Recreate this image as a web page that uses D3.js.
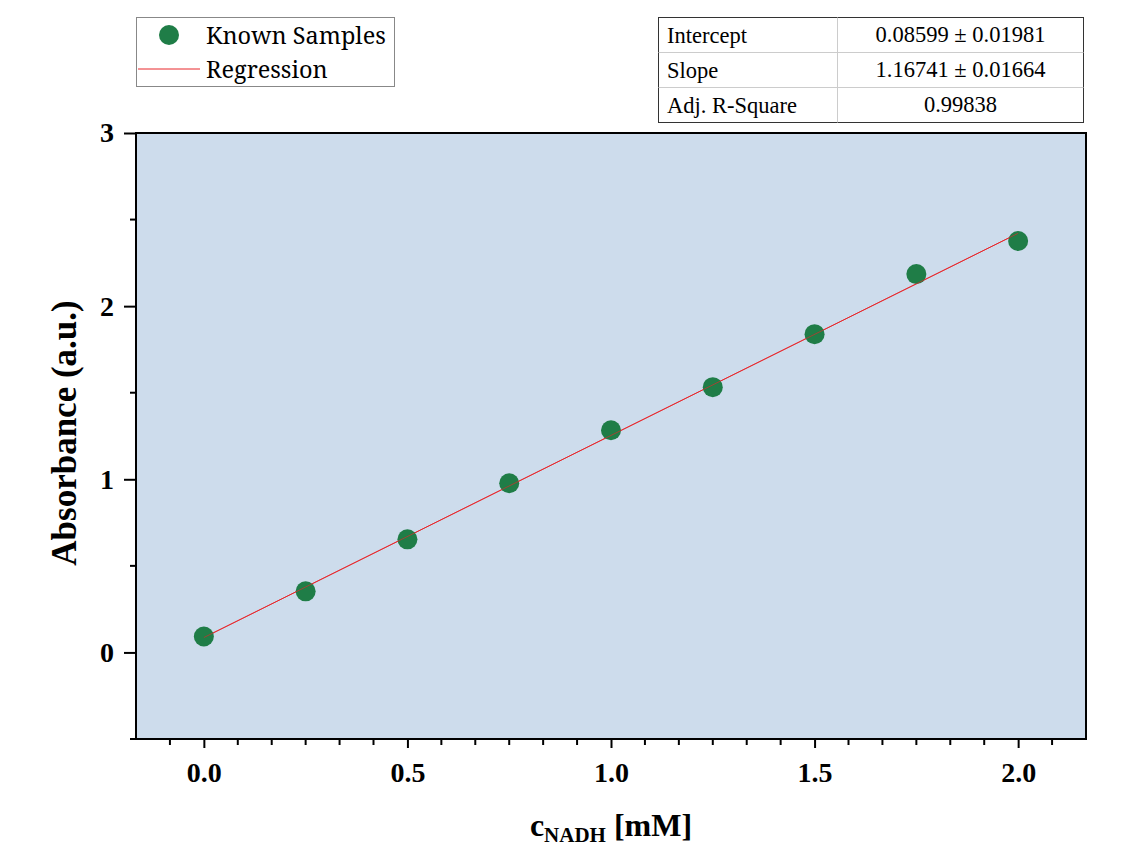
<!DOCTYPE html>
<html><head><meta charset="utf-8">
<script src="https://cdn.jsdelivr.net/npm/d3@7"></script>
<style>body{margin:0;background:#fff}</style>
</head><body>
<script>
const concentrations = [0, 0.25, 0.5, 0.75, 1.0, 1.25, 1.5, 1.75, 2.0];
const absorbance = [0.092, 0.353, 0.653, 0.977, 1.283, 1.532, 1.838, 2.185, 2.376];
const fitIntercept = 0.08599;
const fitSlope = 1.16741;
const xTicks = [0, 0.5, 1.0, 1.5, 2.0];
const yTicks = [0, 1, 2, 3];
const tableRows = ["Intercept", "Slope", "Adj. R-Square"];
const tableValues = ["0.08599 \u00b1 0.01981", "1.16741 \u00b1 0.01664", "0.99838"];
const legendLabels = ["Known Samples", "Regression"];

const W = 1126, H = 862;
const m = {left: 136, right: 1086, top: 133, bottom: 739};
const svg = d3.select("body").append("svg").attr("width", W).attr("height", H);

const x = d3.scaleLinear().domain([-1/6, 2 + 1/6]).range([m.left, m.right]);
const y = d3.scaleLinear().domain([-0.5, 3]).range([m.bottom, m.top]);

svg.append("rect").attr("x", m.left).attr("y", m.top)
  .attr("width", m.right - m.left).attr("height", m.bottom - m.top)
  .attr("fill", "#cddcec");

const xMinor = d3.range(-1, 27).map(i => i / 12).filter(v => v > -1/6 + 1e-6 && v < 2 + 1/6 - 1e-6 && Math.abs(v * 2 - Math.round(v * 2)) > 1e-6);
const yMinor = [-0.5, 0.5, 1.5, 2.5];

const tickFont = "'Liberation Serif', 'Times New Roman', serif";

const xAxis = svg.append("g").attr("transform", `translate(0,${m.bottom})`)
  .call(d3.axisBottom(x).tickValues(xTicks).tickFormat(d3.format(".1f")).tickSize(9).tickPadding(14));
const yAxis = svg.append("g").attr("transform", `translate(${m.left},0)`)
  .call(d3.axisLeft(y).tickValues(yTicks).tickFormat(d3.format("d")).tickSize(12).tickPadding(10));
[xAxis, yAxis].forEach(g => {
  g.attr("font-size", null).attr("font-family", null);
  g.select(".domain").remove();
  g.selectAll("line").attr("stroke", "#000").attr("stroke-width", 2);
  g.selectAll("text").style("font-family", tickFont).style("font-weight", "bold")
    .style("font-size", "28px").attr("fill", "#000");
});
svg.append("g").selectAll("line").data(xMinor).join("line")
  .attr("x1", d => x(d)).attr("x2", d => x(d)).attr("y1", m.bottom).attr("y2", m.bottom + 6)
  .attr("stroke", "#000").attr("stroke-width", 2);
svg.append("g").selectAll("line").data(yMinor).join("line")
  .attr("x1", m.left).attr("x2", m.left - 6).attr("y1", d => y(d)).attr("y2", d => y(d))
  .attr("stroke", "#000").attr("stroke-width", 2);

svg.append("rect").attr("x", m.left).attr("y", m.top)
  .attr("width", m.right - m.left).attr("height", m.bottom - m.top)
  .attr("fill", "none").attr("stroke", "#000").attr("stroke-width", 2);

const fx = [concentrations[0], concentrations[concentrations.length - 1]];
svg.append("line")
  .attr("x1", x(fx[0])).attr("y1", y(fitIntercept + fitSlope * fx[0]))
  .attr("x2", x(fx[1])).attr("y2", y(fitIntercept + fitSlope * fx[1]))
  .attr("stroke", "#e8262a").attr("stroke-width", 1);

svg.append("g").selectAll("circle").data(concentrations).join("circle")
  .attr("cx", d => x(d)).attr("cy", (d, i) => y(absorbance[i])).attr("r", 10)
  .attr("fill", "#1f7d47");
svg.append("line")
  .attr("x1", x(fx[0])).attr("y1", y(fitIntercept + fitSlope * fx[0]))
  .attr("x2", x(fx[1])).attr("y2", y(fitIntercept + fitSlope * fx[1]))
  .attr("stroke", "#e8262a").attr("stroke-width", 0.8).attr("opacity", 0.8);

svg.append("text").attr("transform", `translate(76,${(m.top + m.bottom) / 2 - 3}) rotate(-90)`)
  .attr("text-anchor", "middle").style("font-family", tickFont).style("font-weight", "bold")
  .style("font-size", "35px").text("Absorbance (a.u.)");
const xt = svg.append("text").attr("x", 611).attr("y", 836).attr("text-anchor", "middle")
  .style("font-family", tickFont).style("font-weight", "bold").style("font-size", "32px");
xt.append("tspan").text("c");
xt.append("tspan").style("font-size", "21px").attr("dy", 6).text("NADH");
xt.append("tspan").attr("dy", -6).text(" [mM]");

const lg = svg.append("g");
lg.append("rect").attr("x", 136.5).attr("y", 17.5).attr("width", 258).attr("height", 69)
  .attr("fill", "#fff").attr("stroke", "#888").attr("stroke-width", 1);
lg.append("circle").attr("cx", 169).attr("cy", 35).attr("r", 10).attr("fill", "#1f7d47");
lg.append("line").attr("x1", 138).attr("x2", 200).attr("y1", 69).attr("y2", 69)
  .attr("stroke", "#e8262a").attr("stroke-width", 1);
lg.selectAll("text").data(legendLabels).join("text")
  .attr("x", 206).attr("y", (d, i) => 44 + i * 34)
  .style("font-family", "'Noto Serif', 'DejaVu Serif', 'Liberation Serif', serif").style("font-size", "23.5px")
  .text(d => d);

const tb = svg.append("g");
const tx0 = 658.5, tx1 = 837.5, tx2 = 1083.5, ty0 = 17.5, rh = 35;
tb.append("rect").attr("x", tx0).attr("y", ty0).attr("width", tx2 - tx0).attr("height", rh * 3)
  .attr("fill", "#fff").attr("stroke", "#333").attr("stroke-width", 1);
tb.append("line").attr("x1", tx1).attr("x2", tx1).attr("y1", ty0).attr("y2", ty0 + rh * 3)
  .attr("stroke", "#ccc");
[1, 2].forEach(i => tb.append("line").attr("x1", tx0).attr("x2", tx2)
  .attr("y1", ty0 + rh * i).attr("y2", ty0 + rh * i).attr("stroke", "#ccc"));
tb.selectAll("text.r").data(tableRows).join("text").attr("class", "r")
  .attr("x", 667).attr("y", (d, i) => ty0 + rh * i + 25)
  .style("font-family", tickFont).style("font-size", "22.5px").text(d => d);
tb.selectAll("text.v").data(tableValues).join("text").attr("class", "v")
  .attr("x", (tx1 + tx2) / 2).attr("y", (d, i) => ty0 + rh * i + 24).attr("text-anchor", "middle")
  .style("font-family", tickFont).style("font-size", "22.5px").text(d => d);
</script>
</body></html>
